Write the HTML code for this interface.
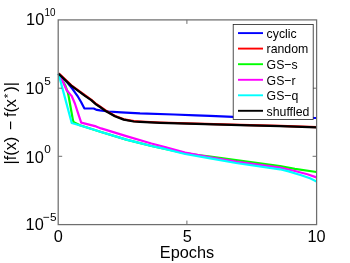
<!DOCTYPE html>
<html><head><meta charset="utf-8">
<style>
html,body{margin:0;padding:0;background:#fff;}
body{width:350px;height:263px;overflow:hidden;}
svg{display:block;will-change:transform;font-family:"Liberation Sans",sans-serif;}
</style></head><body>
<svg width="350" height="263" viewBox="0 0 350 263">
<rect width="350" height="263" fill="#fff"/>
<!-- curves -->
<g fill="none" stroke-width="2.2" stroke-linejoin="round" stroke-linecap="butt">
<path stroke="#0000ff" d="M58.50,73.70 L67.30,82.50 L72.40,88.80 L77.40,95.80 L81.20,102.30 L84.30,108.30 L93.70,108.50 L96.90,109.90 L100.00,110.40 L108.60,111.50 L121.20,112.30 L140.00,113.40 L174.00,114.50 L196.00,115.30 L210.00,115.90 L233.00,116.80 L280.00,117.50 L316.50,118.00"/>
<path stroke="#ff0000" d="M58.72,73.40 L71.32,85.30 L85.22,95.50 L91.42,99.80 L96.22,104.00 L100.22,106.70 L106.32,111.00 L115.12,116.00 L123.92,119.30 L133.92,121.20 L140.22,121.60 L160.22,122.50 L196.22,123.60 L240.22,124.80 L280.22,125.80 L316.72,127.10"/>
<path stroke="#00ff00" d="M58.5,73.7 L65.4,85.6 L68,93.2 L68.6,96 L73,120.5 L73.8,122.2 L80,125.2 L101.1,132 L126.3,139.6 L151.4,146 L164,148.6 L185.1,153.2 L198,155 L210.3,156.7 L236,160.2 L280,166.2 L294.9,168.9 L316.5,172"/>
<path stroke="#ff00ff" d="M58.5,73.7 L63.5,83.1 L66.6,90 L70.5,94.6 L71.7,96 L74.9,103.5 L78.6,114.9 L81.2,122.6 L96,126.4 L101.1,128.4 L126.3,136.1 L151.4,143.5 L164,146.7 L185.1,152.6 L210.3,157.4 L236,161.7 L280,167.6 L294.9,171 L307.4,174.2 L316.5,177.4"/>
<path stroke="#00ffff" d="M58.5,73.7 L65.4,99.4 L71.7,123 L76,124.2 L92.5,129.2 L101.1,132 L126.3,139.6 L151.4,146 L164,148.7 L185.1,154 L210.3,158.3 L236,163 L280,169.3 L288.6,171.4 L301.2,175.2 L310,178.3 L316.5,181.5"/>
<path stroke="#000000" d="M58.50,73.70 L71.10,85.60 L85.00,95.80 L91.20,100.10 L96.00,104.30 L100.00,107.00 L106.10,111.30 L114.90,116.30 L123.70,119.60 L133.70,121.50 L140.00,121.90 L160.00,122.80 L196.00,123.90 L240.00,125.10 L280.00,126.10 L316.50,127.40"/>
</g>
<!-- axes box -->
<g stroke="#6e6e6e" stroke-width="1.25" fill="none">
<rect x="58.2" y="19.9" width="258.4" height="204.7"/>
<path d="M58.2,88.2h4 M58.2,156.3h4 M316.6,88.2h-4 M316.6,156.3h-4 M186.9,224.6v-4 M186.9,19.9v4" stroke-width="1"/>
</g>
<!-- legend -->
<rect x="233.2" y="24.5" width="80" height="94.9" fill="#fff" stroke="#222" stroke-width="0.8"/>
<g stroke-width="1.9" fill="none">
<path stroke="#0000ff" d="M238,33.1h25"/>
<path stroke="#ff0000" d="M238,48.6h25"/>
<path stroke="#00ff00" d="M238,64.2h25"/>
<path stroke="#ff00ff" d="M238,79.8h25"/>
<path stroke="#00ffff" d="M238,95.3h25"/>
<path stroke="#000000" d="M238,110.8h25"/>
</g>
<g font-size="13.3" fill="#000" transform="translate(266.6,0) scale(0.925,1)">
<text x="0" y="37.9">cyclic</text>
<text x="0" y="53.4">random</text>
<text x="0" y="69">GS−s</text>
<text x="0" y="84.6">GS−r</text>
<text x="0" y="100.1">GS−q</text>
<text x="0" y="115.6">shuffled</text>
</g>
<!-- tick labels -->
<g font-size="16.3" fill="#000">
<text x="26.1" y="25.4">10</text>
<text x="25.6" y="94.3">10</text>
<text x="25.6" y="162.5">10</text>
<text x="25.6" y="230.2">10</text>
<text x="58.3" y="242.2" text-anchor="middle">0</text>
<text x="187.2" y="242.2" text-anchor="middle">5</text>
<text x="316.6" y="242.2" text-anchor="middle">10</text>
<text x="187" y="257.8" text-anchor="middle">Epochs</text>
<text transform="translate(16.2,164.5) rotate(-90)">|f(x) <tspan dx="2">−</tspan><tspan dx="-0.9"> f(x</tspan><tspan font-size="11.8" dy="-4.2" dx="0.8">*</tspan><tspan dy="4.2" dx="2.0">)|</tspan></text>
</g>
<g font-size="11.8" fill="#000">
<text x="44.4" y="16" textLength="11" lengthAdjust="spacingAndGlyphs">10</text>
<text x="44.2" y="84.9">5</text>
<text x="44.2" y="153.1">0</text>
<text x="43" y="221">−5</text>
</g>
</svg>
</body></html>
